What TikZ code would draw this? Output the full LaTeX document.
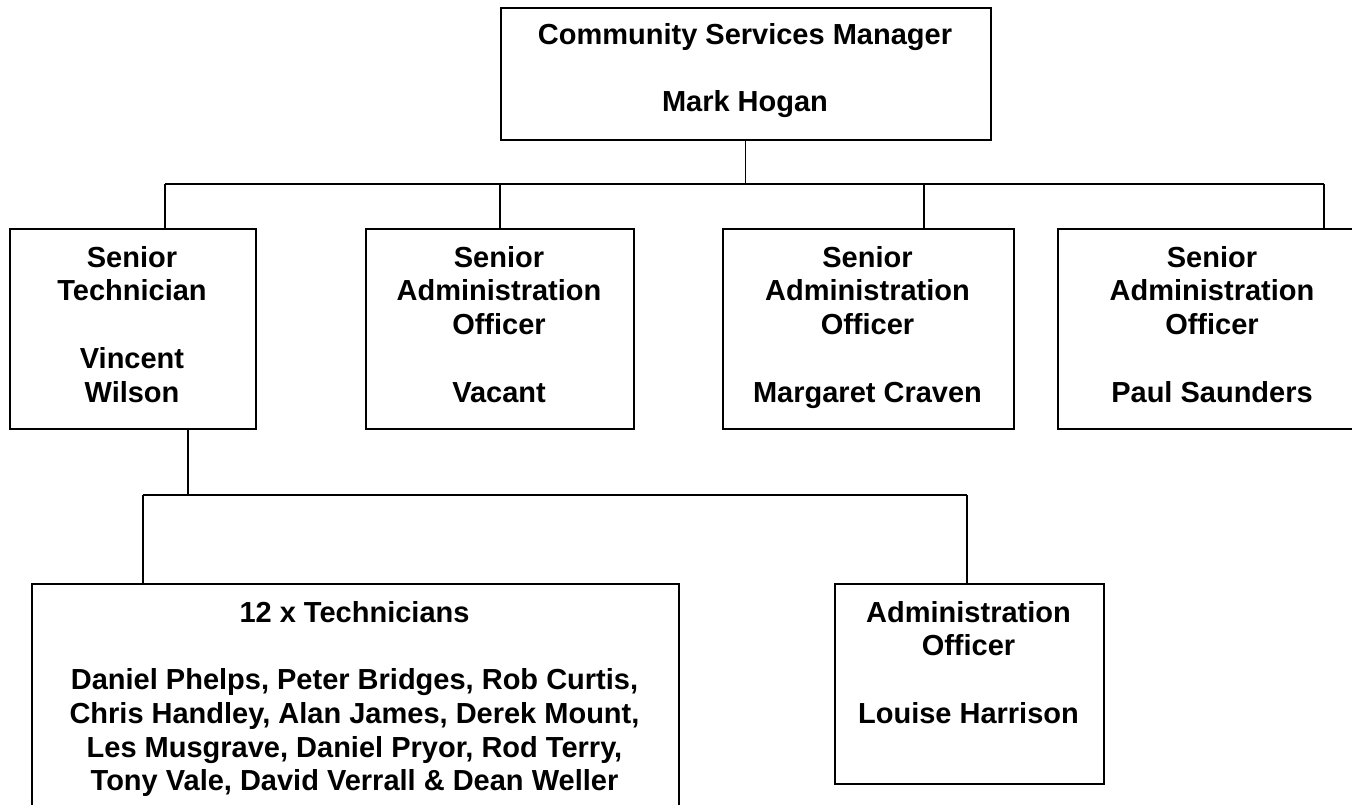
\documentclass[tikz,border=0pt]{standalone}
\usepackage{fontspec}
\setmainfont{Liberation Sans}
\newcommand{\firstln}{\rule{0pt}{22pt}}
\tikzset{
  box/.style={draw, line width=1.5pt, inner sep=0pt, anchor=north west},
  txt/.style={anchor=north, inner sep=0pt, align=center,
    font=\fontsize{29}{33.7}\selectfont\bfseries},
  conn/.style={line width=1.4pt}
}
\begin{document}
\begin{tikzpicture}[x=1pt, y=-1pt]
\useasboundingbox (0,0) rectangle (1352,804);
\fill[white] (0,0) rectangle (1352,804);

% boxes
\node[box, minimum width=490pt, minimum height=132pt] (top) at (500,7) {};
\node[box, minimum width=246pt, minimum height=200pt] (st)  at (9,228) {};
\node[box, minimum width=268pt, minimum height=200pt] (sa1) at (365,228) {};
\node[box, minimum width=291pt, minimum height=200pt] (sa2) at (722,228) {};
\node[box, minimum width=311pt, minimum height=200pt] (sa3) at (1057,228) {};
\node[box, minimum width=647pt, minimum height=232pt] (tech) at (31,583) {};
\node[box, minimum width=269pt, minimum height=200pt] (adm) at (834,583) {};

% texts
\node[txt] (ttop) at (745,22) {\firstln Community Services Manager\\[33.7pt]Mark Hogan};
\node[txt] (tst) at (132,245) {\firstln Senior\\Technician\\[33.7pt]Vincent\\Wilson};
\node[txt] (tsa1) at (499,245) {\firstln Senior\\Administration\\Officer\\[33.7pt]Vacant};
\node[txt] (tsa2) at (867.5,245) {\firstln Senior\\Administration\\Officer\\[33.7pt]Margaret Craven};
\node[txt] (tsa3) at (1212,245) {\firstln Senior\\Administration\\Officer\\[33.7pt]Paul Saunders};
\node[txt] (ttech) at (354.5,600) {\firstln 12 x Technicians\\[33.7pt]Daniel Phelps, Peter Bridges, Rob Curtis,\\Chris Handley, Alan James, Derek Mount,\\Les Musgrave, Daniel Pryor, Rod Terry,\\Tony Vale, David Verrall \& Dean Weller};
\node[txt] (tadm) at (968.5,600) {\firstln Administration\\Officer\\[33.7pt]Louise Harrison};

% junctions
\coordinate (j1) at (165,184);
\coordinate (j2) at (500,184);
\coordinate (j3) at (924,184);
\coordinate (j4) at (1324,184);
\coordinate (k0) at (188,495);
\coordinate (k1) at (143,495);
\coordinate (k2) at (967,495);

% connectors level 1
\draw[conn] (top.south) -- (top.south |- j1);
\draw[conn] (j1) -- (j4);
\draw[conn] (j1) -- (j1 |- st.north);
\draw[conn] (j2) -- (j2 |- sa1.north);
\draw[conn] (j3) -- (j3 |- sa2.north);
\draw[conn] (j4) -- (j4 |- sa3.north);

% connectors level 2
\draw[conn] (k0 |- st.south) -- (k0);
\draw[conn] (k1) -- (k2);
\draw[conn] (k1) -- (k1 |- tech.north);
\draw[conn] (k2) -- (k2 |- adm.north);
\end{tikzpicture}
\end{document}
